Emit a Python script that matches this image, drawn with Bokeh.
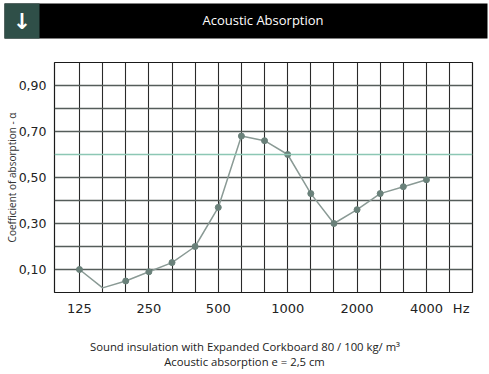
from bokeh.plotting import figure
from bokeh.models import FixedTicker, Label, Span, ColumnDataSource, Range1d
from bokeh.layouts import column, row
from bokeh.embed import file_html
from bokeh.resources import INLINE

# ---- data ----
freqs = [125, 160, 200, 250, 315, 400, 500, 630, 800, 1000, 1250, 1600, 2000, 2500, 3150, 4000]
alpha = [0.10, 0.02, 0.05, 0.09, 0.13, 0.20, 0.37, 0.68, 0.66, 0.60, 0.43, 0.30, 0.36, 0.43, 0.46, 0.49]
show_marker = [True, False, True, True, True, True, True, True, True, True, True, True, True, True, True, True]
grid_freqs = [125, 160, 200, 250, 315, 400, 500, 630, 800, 1000, 1250, 1600, 2000, 2500, 3150, 4000, 5000]
x_tick_labels = ["125", "250", "500", "1000", "2000", "4000"]
y_ticks = [0.1, 0.3, 0.5, 0.7, 0.9]
y_tick_labels = ["0,10", "0,30", "0,50", "0,70", "0,90"]
title_text = "Acoustic Absorption"
y_title = "Coefficient of absorption - α"
caption1 = "Sound insulation with Expanded Corkboard 80 / 100 kg/ m³"
caption2 = "Acoustic absorption e = 2,5 cm"

FONT = "Open Sans"
TICK_FONT = "DejaVu Sans"
W = 489

def blank_fig(h):
    f = figure(width=W, height=h, output_backend="svg", toolbar_location=None,
               x_range=Range1d(0, W), y_range=Range1d(0, h),
               min_border=0, min_border_left=0, min_border_right=0,
               min_border_top=0, min_border_bottom=0)
    f.axis.visible = False
    f.grid.visible = False
    f.outline_line_color = None
    f.background_fill_color = "white"
    f.border_fill_color = "white"
    return f

# ---- header ----
HH = 41
hdr = blank_fig(HH)
hdr.quad(left=[4], right=[487], bottom=[3], top=[38], fill_color="black", line_color=None)
hdr.quad(left=[4], right=[39], bottom=[3], top=[38], fill_color="#2f4f48", line_color=None)
hdr.add_layout(Label(x=21.5, y=20.5, text="↓", text_color="white", text_font=TICK_FONT,
                     text_font_style="bold", text_font_size="22px",
                     text_align="center", text_baseline="middle"))
hdr.add_layout(Label(x=262.5, y=HH - 19.5, text=title_text, text_color="white", text_font=FONT,
                     text_font_size="13px", text_align="center", text_baseline="middle"))

# ---- main chart ----
idx = list(range(len(freqs)))
grid_idx = list(range(len(grid_freqs)))
tick_pos = [grid_freqs.index(int(t)) for t in x_tick_labels]

x0, x1 = -1.08, 16.99
p = figure(width=W, height=281, output_backend="svg", toolbar_location=None,
           x_range=Range1d(x0, x1), y_range=Range1d(0, 1.0),
           min_border_left=54, min_border_right=17, min_border_top=21, min_border_bottom=30)
p.outline_line_color = "#1a1a1a"
p.outline_line_width = 1.2
p.background_fill_color = "white"

p.xgrid.ticker = FixedTicker(ticks=grid_idx)
p.xgrid.grid_line_color = "#2a2a2a"
p.xgrid.grid_line_width = 1.1
p.ygrid.ticker = FixedTicker(ticks=[0.1, 0.2, 0.3, 0.4, 0.5, 0.7, 0.8, 0.9])
p.ygrid.grid_line_color = "#555d5a"
p.ygrid.grid_line_width = 1.3
p.add_layout(Span(location=0.6, dimension="width", line_color="#8cc7b4", line_width=1.3))

xt = tick_pos + [16.5]
p.xaxis.ticker = FixedTicker(ticks=xt)
over = {t: lab for t, lab in zip(tick_pos, x_tick_labels)}
over[16.5] = "Hz"
p.xaxis.major_label_overrides = over
p.yaxis.ticker = FixedTicker(ticks=y_ticks)
p.yaxis.major_label_overrides = {t: lab for t, lab in zip(y_ticks, y_tick_labels)}
for ax in (p.xaxis[0], p.yaxis[0]):
    ax.axis_line_color = None
    ax.major_tick_line_color = None
    ax.minor_tick_line_color = None
    ax.major_label_text_font = TICK_FONT
    ax.major_label_text_color = "#222222"
p.xaxis.major_label_text_font_size = "13px"
p.yaxis.major_label_text_font_size = "12.5px"
p.xaxis.major_label_standoff = 2
p.yaxis.major_label_standoff = 2
p.yaxis.axis_label = y_title
p.yaxis.axis_label_text_font = FONT
p.yaxis.axis_label_text_font_size = "10px"
p.yaxis.axis_label_text_font_style = "normal"
p.yaxis.axis_label_text_color = "#333333"
p.yaxis.axis_label_standoff = -3

src = ColumnDataSource(dict(x=idx, y=alpha))
p.line("x", "y", source=src, line_color="#8a9a95", line_width=1.5)
mx = [i for i, m in zip(idx, show_marker) if m]
my = [a for a, m in zip(alpha, show_marker) if m]
p.scatter(mx, my, size=6, fill_color="#6a817a", line_color="#6a817a")

# ---- captions ----
CH = 52
cap = blank_fig(CH)
cap.add_layout(Label(x=244.5, y=CH - 24, text=caption1, text_font=FONT, text_font_size="11.3px",
                     text_color="#222222", text_align="center", text_baseline="middle"))
cap.add_layout(Label(x=244, y=CH - 39, text=caption2, text_font=FONT, text_font_size="11.3px",
                     text_color="#222222", text_align="center", text_baseline="middle"))

layout = column(hdr, row(p), cap, spacing=0)
open("out.html", "w").write(file_html(layout, INLINE))
